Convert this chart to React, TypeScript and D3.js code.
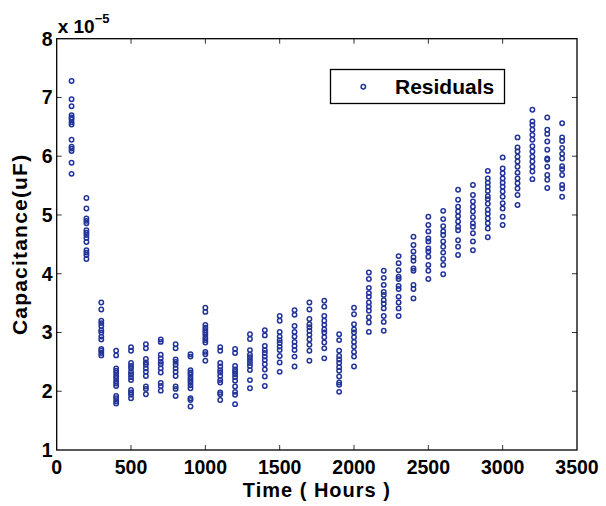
import { useEffect, useRef } from 'react';
import * as d3 from 'd3';

// sampling times (hours)
const hours = [
  100, 200, 300, 400, 500, 600, 700, 800, 900, 1000, 1100, 1200, 1300, 1400, 1500, 1600, 1700,
  1800, 1900, 2000, 2100, 2200, 2300, 2400, 2500, 2600, 2700, 2800, 2900, 3000, 3100, 3200, 3300, 3400,
];

// residual capacitance values (x 1e-5 uF) read per sampling time
const residuals = [
  [7.28, 6.97, 6.85, 6.7, 6.66, 6.63, 6.58, 6.54, 6.28, 6.16, 6.13, 6.09, 5.89, 5.7],
  [5.29, 5.11, 4.94, 4.9, 4.86, 4.74, 4.7, 4.66, 4.61, 4.54, 4.4, 4.36, 4.32, 4.25],
  [3.51, 3.39, 3.2, 3.16, 3.11, 3.04, 3.0, 2.93, 2.88, 2.72, 2.69, 2.65, 2.61],
  [2.69, 2.61, 2.39, 2.35, 2.31, 2.26, 2.22, 2.17, 2.13, 2.09, 1.92, 1.88, 1.83, 1.79],
  [2.75, 2.69, 2.48, 2.43, 2.39, 2.33, 2.29, 2.24, 2.19, 2.02, 1.98, 1.94, 1.88],
  [2.8, 2.73, 2.55, 2.49, 2.45, 2.39, 2.33, 2.26, 2.08, 2.04, 1.95],
  [2.88, 2.84, 2.62, 2.56, 2.5, 2.46, 2.39, 2.32, 2.14, 2.09, 2.01],
  [2.8, 2.73, 2.54, 2.5, 2.45, 2.39, 2.33, 2.26, 2.08, 2.04, 1.92],
  [2.63, 2.59, 2.36, 2.32, 2.28, 2.23, 2.19, 2.15, 2.1, 2.05, 1.88, 1.85, 1.74],
  [3.42, 3.35, 3.13, 3.08, 3.04, 3.0, 2.96, 2.91, 2.87, 2.83, 2.67, 2.63, 2.52],
  [2.75, 2.69, 2.48, 2.42, 2.36, 2.32, 2.26, 2.19, 2.15, 1.98, 1.95, 1.85],
  [2.72, 2.65, 2.43, 2.37, 2.33, 2.29, 2.24, 2.18, 2.08, 1.99, 1.94, 1.78],
  [2.97, 2.89, 2.7, 2.62, 2.58, 2.53, 2.48, 2.43, 2.36, 2.19, 2.05],
  [3.04, 2.95, 2.77, 2.7, 2.65, 2.59, 2.53, 2.46, 2.37, 2.25, 2.09],
  [3.28, 3.2, 3.01, 2.93, 2.87, 2.82, 2.76, 2.7, 2.6, 2.49, 2.33],
  [3.38, 3.3, 3.11, 3.01, 2.93, 2.84, 2.77, 2.7, 2.59, 2.42],
  [3.51, 3.39, 3.23, 3.14, 3.09, 3.03, 2.96, 2.88, 2.79, 2.69, 2.52],
  [3.54, 3.44, 3.28, 3.2, 3.13, 3.05, 3.0, 2.92, 2.83, 2.73, 2.56],
  [2.97, 2.87, 2.69, 2.6, 2.54, 2.48, 2.41, 2.35, 2.25, 2.15, 2.11, 1.99],
  [3.42, 3.31, 3.14, 3.05, 3.0, 2.92, 2.84, 2.76, 2.67, 2.59, 2.42],
  [4.02, 3.91, 3.76, 3.67, 3.61, 3.51, 3.44, 3.37, 3.26, 3.17, 3.01],
  [4.05, 3.93, 3.81, 3.69, 3.64, 3.55, 3.49, 3.41, 3.28, 3.18, 3.03],
  [4.3, 4.18, 4.06, 3.95, 3.91, 3.79, 3.74, 3.61, 3.51, 3.41, 3.28],
  [4.63, 4.49, 4.38, 4.28, 4.22, 4.09, 4.05, 3.81, 3.74, 3.58],
  [4.97, 4.83, 4.72, 4.6, 4.55, 4.43, 4.38, 4.29, 4.15, 4.05, 3.91],
  [5.07, 4.93, 4.81, 4.72, 4.66, 4.55, 4.46, 4.36, 4.25, 4.15, 3.99],
  [5.43, 5.26, 5.14, 5.06, 4.98, 4.89, 4.8, 4.74, 4.57, 4.46, 4.32],
  [5.51, 5.34, 5.23, 5.14, 5.06, 4.96, 4.86, 4.8, 4.69, 4.55, 4.4],
  [5.75, 5.62, 5.55, 5.48, 5.41, 5.32, 5.27, 5.19, 5.09, 5.02, 4.94, 4.86, 4.77, 4.62],
  [5.98, 5.79, 5.71, 5.62, 5.55, 5.48, 5.4, 5.31, 5.2, 5.11, 4.97, 4.83],
  [6.32, 6.15, 6.08, 5.99, 5.91, 5.82, 5.72, 5.62, 5.54, 5.45, 5.34, 5.17],
  [6.79, 6.59, 6.53, 6.45, 6.36, 6.28, 6.17, 6.08, 5.99, 5.91, 5.82, 5.74, 5.61],
  [6.66, 6.45, 6.38, 6.25, 6.11, 5.96, 5.94, 5.82, 5.68, 5.6, 5.46],
  [6.56, 6.32, 6.26, 6.14, 6.04, 5.96, 5.83, 5.78, 5.68, 5.51, 5.45, 5.31],
];

const xTicks = [0, 500, 1000, 1500, 2000, 2500, 3000, 3500];
const yTicks = [1, 2, 3, 4, 5, 6, 7, 8];

export default function App() {
  const svgRef = useRef<SVGSVGElement>(null);

  useEffect(() => {
    const width = 606;
    const height = 506;
    const margin = { top: 38.7, right: 29, bottom: 56, left: 56.7 };
    const markerColor = '#22339a';
    const font = '"Liberation Sans", Arial, Helvetica, sans-serif';

    const svg = d3.select(svgRef.current);
    svg.selectAll('*').remove();

    const x = d3.scaleLinear().domain([0, 3500]).range([margin.left, width - margin.right]);
    const y = d3.scaleLinear().domain([1, 8]).range([height - margin.bottom, margin.top]);

    const [x0, x1] = x.range();
    const [y0, y1] = y.range();

    svg.append('rect').attr('width', width).attr('height', height).attr('fill', '#fff');

    // points
    const pts = hours.flatMap((h, i) => residuals[i].map(v => ({ h, v })));
    svg.append('g')
      .selectAll('circle')
      .data(pts)
      .enter()
      .append('circle')
      .attr('cx', d => x(d.h))
      .attr('cy', d => y(d.v))
      .attr('r', 2.2)
      .attr('fill', 'none')
      .attr('stroke', markerColor)
      .attr('stroke-width', 1.5);

    // inward ticks on all four sides
    const tickLen = 5;
    const ticks = svg.append('g').attr('stroke', '#333').attr('stroke-width', 1);
    xTicks.slice(1, -1).forEach(t => {
      ticks.append('line').attr('x1', x(t)).attr('x2', x(t)).attr('y1', y0).attr('y2', y0 - tickLen);
      ticks.append('line').attr('x1', x(t)).attr('x2', x(t)).attr('y1', y1).attr('y2', y1 + tickLen);
    });
    yTicks.slice(1, -1).forEach(t => {
      ticks.append('line').attr('x1', x0).attr('x2', x0 + tickLen).attr('y1', y(t)).attr('y2', y(t));
      ticks.append('line').attr('x1', x1).attr('x2', x1 - tickLen).attr('y1', y(t)).attr('y2', y(t));
    });

    // axes box
    svg.append('rect')
      .attr('x', x0)
      .attr('y', y1)
      .attr('width', x1 - x0)
      .attr('height', y0 - y1)
      .attr('fill', 'none')
      .attr('stroke', '#000')
      .attr('stroke-width', 1.3);

    // tick labels
    const labels = svg.append('g')
      .style('font-family', font)
      .style('font-weight', 'bold')
      .style('font-size', '19.5px')
      .attr('fill', '#000');
    xTicks.forEach(t => {
      labels.append('text')
        .attr('x', x(t))
        .attr('y', y0 + 24)
        .attr('text-anchor', 'middle')
        .text(t);
    });
    yTicks.forEach(t => {
      labels.append('text')
        .attr('x', x0 - 4)
        .attr('y', y(t) + 7)
        .attr('text-anchor', 'end')
        .text(t);
    });

    // exponent
    const expo = svg.append('text')
      .attr('x', x0 + 1)
      .attr('y', 33)
      .style('font-family', font)
      .style('font-weight', 'bold')
      .style('font-size', '19px');
    expo.append('tspan').text('x 10');
    expo.append('tspan')
      .attr('dy', -10)
      .style('font-size', '13px')
      .text('\u22125');

    // axis labels
    svg.append('text')
      .attr('x', (x0 + x1) / 2)
      .attr('y', 497)
      .attr('text-anchor', 'middle')
      .style('font-family', font)
      .style('font-weight', 'bold')
      .style('font-size', '20px')
      .style('letter-spacing', '1px')
      .text('Time ( Hours )');

    svg.append('text')
      .attr('transform', `translate(27,${(y0 + y1) / 2}) rotate(-90)`)
      .attr('text-anchor', 'middle')
      .style('font-family', font)
      .style('font-weight', 'bold')
      .style('font-size', '21px')
      .style('letter-spacing', '1.2px')
      .text('Capacitance(uF)');

    // legend
    const lg = svg.append('g');
    lg.append('rect')
      .attr('x', 330.5)
      .attr('y', 69.5)
      .attr('width', 174)
      .attr('height', 34)
      .attr('fill', '#fff')
      .attr('stroke', '#000')
      .attr('stroke-width', 1.3);
    lg.append('circle')
      .attr('cx', 363.3)
      .attr('cy', 86.7)
      .attr('r', 2.2)
      .attr('fill', 'none')
      .attr('stroke', markerColor)
      .attr('stroke-width', 1.5);
    lg.append('text')
      .attr('x', 395)
      .attr('y', 94.3)
      .style('font-family', font)
      .style('font-weight', 'bold')
      .style('font-size', '21px')
      .text('Residuals');
  }, []);

  return (
    <svg
      ref={svgRef}
      width={606}
      height={506}
      style={{ position: 'absolute', left: 0, top: 0 }}
    />
  );
}
